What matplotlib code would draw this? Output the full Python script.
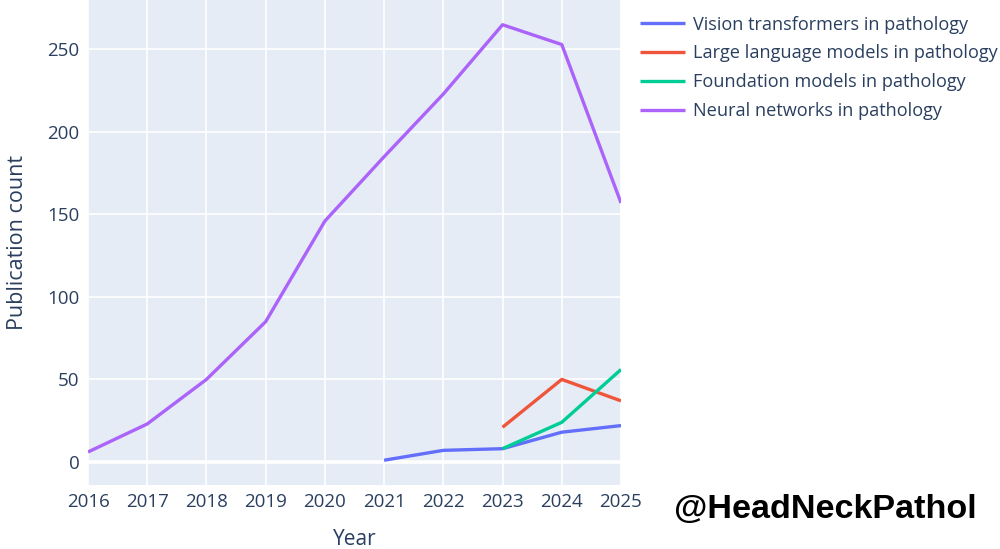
import matplotlib
matplotlib.use("Agg")
import matplotlib.pyplot as plt

# publication counts per year
years_nn = [2016, 2017, 2018, 2019, 2020, 2021, 2022, 2023, 2024, 2025]
neural_networks = [6, 23, 50, 85, 146, 185, 223, 265, 253, 157]

years_vit = [2021, 2022, 2023, 2024, 2025]
vision_transformers = [1, 7, 8, 18, 22]

years_llm = [2023, 2024, 2025]
large_language = [21, 50, 37]

years_fm = [2023, 2024, 2025]
foundation = [8, 24, 56]

labels = ["Vision transformers in pathology",
          "Large language models in pathology",
          "Foundation models in pathology",
          "Neural networks in pathology"]
colors = ["#636EFA", "#EF553B", "#00CC96", "#AB63FA"]

txt = "#2a3f5f"
plt.rcParams["font.family"] = ["Open Sans", "DejaVu Sans"]

fig = plt.figure(figsize=(10, 5.49), dpi=100)
ax = fig.add_axes([0.088, 0.1166, 0.533, 0.8834])
ax.set_facecolor("#E5ECF6")

series = [(years_vit, vision_transformers), (years_llm, large_language),
          (years_fm, foundation), (years_nn, neural_networks)]
for (x, y), lab, c in zip(series, labels, colors):
    ax.plot(x, y, color=c, lw=2.4, label=lab, solid_capstyle="butt", zorder=3)

ax.set_xlim(2016, 2025)
ax.set_ylim(-14, 280)
ax.set_xticks(range(2016, 2026))
ax.set_yticks([0, 50, 100, 150, 200, 250])
ax.grid(True, color="white", lw=1.2, zorder=0)
ax.axhline(0, color="white", lw=2.6, zorder=1)
ax.set_axisbelow(True)
for s in ax.spines.values():
    s.set_visible(False)
ax.tick_params(length=0, labelsize=13.5, labelcolor=txt, pad=6)

ax.set_xlabel("Year", fontsize=15, color=txt, labelpad=12.5)
ax.set_ylabel("Publication count", fontsize=15.5, color=txt, labelpad=14)

handles, _ = ax.get_legend_handles_labels()
leg = fig.legend(handles, labels, loc="upper left", bbox_to_anchor=(0.633, 0.985),
                 frameon=False, fontsize=13.1, handlelength=2.47,
                 handletextpad=0.44, labelspacing=0.6, borderaxespad=0)
for t in leg.get_texts():
    t.set_color(txt)

fig.text(0.825, 0.072, "@HeadNeckPathol", ha="center", va="center",
         fontsize=24.6, fontweight="bold", family="Liberation Sans", color="black")

fig.savefig("out.png", dpi=100)
